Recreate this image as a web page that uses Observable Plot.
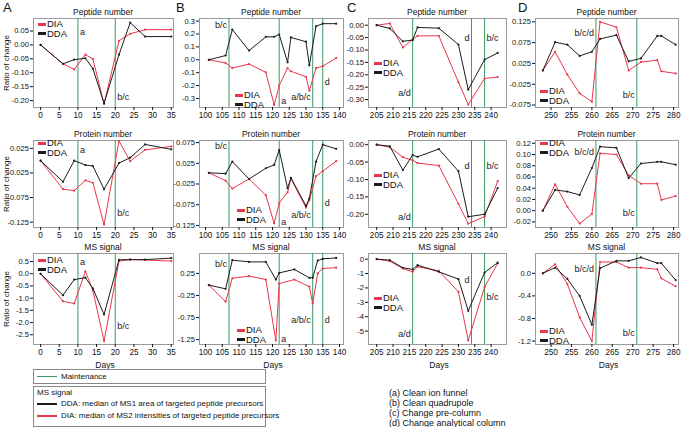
<!DOCTYPE html>
<html><head><meta charset="utf-8">
<script src="https://cdn.jsdelivr.net/npm/d3@7"></script>
<script src="https://cdn.jsdelivr.net/npm/@observablehq/plot@0.6"></script>
<style>
body{margin:0;background:#fff;font-family:"Liberation Sans",Arial,sans-serif;}
#root{position:relative;width:682px;height:427px;overflow:hidden;background:#fff;}
.abs{position:absolute;white-space:nowrap;line-height:1;color:#111;}
.ttl{font-size:8.5px;transform:translate(-50%,-50%);}
.let{font-size:13px;}
.ylab{font-size:8px;transform:translate(-50%,-50%) rotate(-90deg);}
.xlab{font-size:8.5px;transform:translate(-50%,-50%);}
.leg{font-size:9.5px;transform:translateY(-50%);}
.sw{position:absolute;height:3px;width:8px;}
.box{position:absolute;border:1px solid #888;box-sizing:border-box;}
.small{font-size:8px;transform:translateY(-50%);}
.proc{font-size:9px;transform:translateY(-50%);}
</style></head><body><div id="root"></div><script>
// ---------- data ----------
const daysA = [0, 6, 9, 12, 14, 17, 21, 24, 28, 35];
const pepDDA_A = [0, -0.068, -0.053, -0.048, -0.085, -0.21, -0.035, 0.08, 0.03, 0.03];
const pepDIA_A = [0, -0.068, -0.088, -0.035, -0.05, -0.212, 0.015, 0.04, 0.055, 0.055];
const protDDA_A = [0, -0.043, 0, -0.009, -0.011, -0.058, -0.005, 0.006, 0.033, 0.023];
const protDIA_A = [0, -0.058, -0.061, -0.04, -0.045, -0.13, 0.04, -0.001, 0.022, 0.029];
const msDDA_A = [0, -0.88, -0.24, -0.16, -0.6, -1.67, 0.57, 0.58, 0.58, 0.64];
const msDIA_A = [0, -1.13, -1.22, 0.1, -0.68, -2.76, 0.52, 0.58, 0.56, 0.52];

const daysB = [101, 106, 108, 113, 118, 120.5, 122, 124.5, 125.5, 130, 131, 133, 135, 139];
const pepDDA_B = [0, 0.033, 0.234, 0.071, 0.178, 0.178, 0.196, -0.02, 0.173, 0.14, -0.043, 0.26, 0.28, 0.28];
const pepDIA_B = [0, -0.025, -0.064, -0.033, -0.097, -0.35, -0.2, -0.064, -0.089, -0.132, -0.24, -0.064, -0.05, 0.013];
const protDDA_B = [0.002, 0, 0.029, -0.013, 0.013, 0.021, 0.057, -0.035, -0.01, -0.078, -0.06, 0.029, 0.07, 0.06];
const protDIA_B = [0.002, -0.017, -0.036, -0.013, -0.052, -0.12, -0.071, -0.045, -0.012, -0.082, -0.064, -0.006, 0.006, 0.03];
const daysB_ms = [101, 106, 108, 113, 118, 121, 122, 126.5, 131, 132, 133.5, 135, 139];
const msDDA_B = [-0.015, -0.1, 0.55, 0.51, 0.51, 0.11, 0.26, 0.34, 0.15, 0.15, 0.54, 0.58, 0.6];
const msDIA_B = [-0.015, -0.39, 0.14, 0.19, 0.11, -1.27, 0.02, 0.11, -0.05, -0.43, 0.25, 0.36, 0.38];

const daysC = [205, 209, 213, 216, 217.5, 224, 230, 233, 238, 242];
const pepDDA_C = [0, -0.013, -0.065, -0.06, -0.009, -0.012, -0.078, -0.26, -0.139, -0.112];
const pepDIA_C = [0, 0.007, -0.09, -0.058, -0.043, -0.043, -0.23, -0.32, -0.215, -0.209];
const protDDA_C = [0, -0.0045, -0.073, -0.03, -0.035, -0.0125, -0.076, -0.207, -0.2, -0.125];
const protDIA_C = [0, -0.007, -0.036, -0.045, -0.053, -0.06, -0.17, -0.227, -0.207, -0.105];
const msDDA_C = [0, -0.07, -0.6, -0.72, -0.42, -0.88, -1.39, -3.59, -0.93, -0.25];
const msDIA_C = [0, -0.14, -0.65, -0.88, -0.53, -0.81, -2.27, -5.65, -1.94, -0.3];

const daysD = [248, 251, 254, 257, 260, 262, 266, 269, 272, 276, 277, 280.5];
const pepDDA_D = [0.008, 0.076, 0.07, 0.043, 0.053, 0.084, 0.093, 0.03, 0.037, 0.091, 0.091, 0.07];
const pepDIA_D = [0.008, 0.053, -0.002, -0.047, -0.067, 0.125, 0.112, 0.008, 0.028, 0.033, 0.006, 0.001];
const protDDA_D = [0, 0.037, 0.034, 0.028, 0.076, 0.114, 0.112, 0.058, 0.084, 0.087, 0.087, 0.082];
const protDIA_D = [0, 0.047, 0.007, -0.023, -0.006, 0.102, 0.1, 0.063, 0.048, 0.048, 0.019, 0.026];
const msDDA_D = [0, 0.1, -0.1, -0.4, -0.91, 0.09, 0.22, 0.22, 0.28, 0.18, 0.18, -0.12];
const msDIA_D = [0, 0.16, -0.19, -0.78, -1.2, 0.2, 0.2, 0.1, 0.1, 0.07, -0.09, -0.23];

const maintA = [10, 20];
const maintB = [107, 122, 132, 135];
const maintC = [216, 234, 238];
const maintD = [261, 271];

const xTicksA = [0, 5, 10, 15, 20, 25, 30, 35];
const xTicksB = [100, 105, 110, 115, 120, 125, 130, 135, 140];
const xTicksC = [205, 210, 215, 220, 225, 230, 235, 240];
const xTicksD = [250, 255, 260, 265, 270, 275, 280];

const yTicksA1 = [0.05, 0, -0.05, -0.1, -0.15, -0.2];
const yTicksA2 = [0.025, -0.025, -0.075, -0.125];
const yTicksA3 = [0.5, 0, -0.5, -1, -1.5, -2, -2.5];
const yTicksB1 = [0.3, 0.2, 0.1, 0, -0.1, -0.2, -0.3];
const yTicksB2 = [0.075, 0.025, -0.025, -0.075, -0.125];
const yTicksB3 = [0.25, -0.25, -0.75, -1.25];
const yTicksC1 = [0, -0.05, -0.1, -0.15, -0.2, -0.25, -0.3];
const yTicksC2 = [0, -0.05, -0.1, -0.15, -0.2];
const yTicksC3 = [0, -1, -2, -3, -4, -5];
const yTicksD1 = [0.125, 0.075, 0.025, -0.025, -0.075];
const yTicksD2 = [0.12, 0.1, 0.08, 0.06, 0.04, 0.02, 0, -0.02];
const yTicksD3 = [0, -0.4, -0.8, -1.2];

const notesA1 = [{x: 10, y: 0.045, t: "a", s: 1}, {x: 20, y: -0.189, t: "b/c", s: 1}];
const notesA2 = [{x: 10, y: 0.021, t: "a", s: 1}, {x: 20, y: -0.107, t: "b/c", s: 1}];
const notesA3 = [{x: 10, y: 0.46, t: "a", s: 1}, {x: 20, y: -2.16, t: "b/c", s: 1}];
const notesB1 = [{x: 107, y: 0.266, t: "b/c", s: -1}, {x: 122, y: -0.323, t: "a", s: 1}, {x: 132, y: -0.292, t: "a/b/c", s: -1}, {x: 135, y: -0.176, t: "d", s: 1}];
const notesB2 = [{x: 107, y: 0.0655, t: "b/c", s: -1}, {x: 122, y: -0.118, t: "a", s: 1}, {x: 132, y: -0.101, t: "a/b/c", s: -1}, {x: 135, y: -0.072, t: "d", s: 1}];
const notesB3 = [{x: 107, y: 0.45, t: "b/c", s: -1}, {x: 122, y: -1.24, t: "a", s: 1}, {x: 132, y: -0.81, t: "a/b/c", s: -1}, {x: 135, y: -0.81, t: "d", s: 1}];
const notesC1 = [{x: 216, y: -0.275, t: "a/d", s: -1}, {x: 234, y: -0.054, t: "d", s: -1}, {x: 238, y: -0.054, t: "b/c", s: 1}];
const notesC2 = [{x: 216, y: -0.209, t: "a/d", s: -1}, {x: 234, y: -0.063, t: "d", s: -1}, {x: 238, y: -0.063, t: "b/c", s: 1}];
const notesC3 = [{x: 216, y: -5.23, t: "a/d", s: -1}, {x: 234, y: -1.49, t: "d", s: -1}, {x: 238, y: -2.67, t: "b/c", s: 1}];
const notesD1 = [{x: 261, y: 0.097, t: "b/c/d", s: -1}, {x: 271, y: -0.052, t: "b/c", s: -1}];
const notesD2 = [{x: 261, y: 0.105, t: "b/c/d", s: -1}, {x: 271, y: -0.005, t: "b/c", s: -1}];
const notesD3 = [{x: 261, y: 0.07, t: "b/c/d", s: -1}, {x: 271, y: -1.05, t: "b/c", s: -1}];

const rowTitles = ["Peptide number", "Protein number", "MS signal"];
const colLetters = ["A", "B", "C", "D"];
const seriesNames = ["DIA", "DDA"];
const procedures = ["(a) Clean ion funnel", "(b) Clean quadrupole", "(c) Change pre-column", "(d) Change analytical column"];

// ---------- layout / style ----------
const RED = "#e8374a", BLACK = "#1c1c1c", GREEN = "#3b9b63", FRAME = "#9a9a9a";
const FONT = "'Liberation Sans', Arial, sans-serif";
const colFrames = [[33, 173], [199, 343], [368, 506], [535, 678]];
const rowFrames = [[18, 107], [140, 227], [253, 344]];
const ML = 34, MR = 2, MT = 2, MB = 16;
const root = document.getElementById("root");

function txt(s, x, y, cls) {
  const d = document.createElement("div");
  d.className = "abs " + cls;
  d.style.left = x + "px"; d.style.top = y + "px";
  d.textContent = s;
  root.appendChild(d);
  return d;
}
function swatch(x, y, color, w, h) {
  const d = document.createElement("div");
  d.className = "sw";
  const hh = h || 3;
  d.style.left = x + "px"; d.style.top = (y - hh / 2) + "px";
  d.style.height = hh + "px";
  d.style.background = color;
  if (w) d.style.width = w + "px";
  root.appendChild(d);
}
const fmt = n => (v => Math.abs(v) < 1e-9 ? (0).toFixed(n) : v.toFixed(n));

const panels = [
  {c: 0, r: 0, days: daysA, dia: pepDIA_A, dda: pepDDA_A, xd: [-1.9, 35.6], yd: [-0.225, 0.095], xt: xTicksA, yt: yTicksA1, yf: 2, m: maintA, n: notesA1, leg: [38, 24]},
  {c: 0, r: 1, days: daysA, dia: protDIA_A, dda: protDDA_A, xd: [-1.9, 35.6], yd: [-0.136, 0.041], xt: xTicksA, yt: yTicksA2, yf: 3, m: maintA, n: notesA2, leg: [38, 143]},
  {c: 0, r: 2, days: daysA, dia: msDIA_A, dda: msDDA_A, xd: [-1.9, 35.6], yd: [-2.9, 0.83], xt: xTicksA, yt: yTicksA3, yf: 1, m: maintA, n: notesA3, leg: [38, 260]},
  {c: 1, r: 0, days: daysB, dia: pepDIA_B, dda: pepDDA_B, xd: [98.2, 141.2], yd: [-0.37, 0.32], xt: xTicksB, yt: yTicksB1, yf: 1, m: maintB, n: notesB1, leg: [235, 95]},
  {c: 1, r: 1, days: daysB, dia: protDIA_B, dda: protDDA_B, xd: [98.2, 141.2], yd: [-0.13, 0.08], xt: xTicksB, yt: yTicksB2, yf: 3, m: maintB, n: notesB2, leg: [237, 210]},
  {c: 1, r: 2, days: daysB_ms, dia: msDIA_B, dda: msDDA_B, xd: [98.2, 141.2], yd: [-1.36, 0.7], xt: xTicksB, yt: yTicksB3, yf: 2, m: maintB, n: notesB3, leg: [237, 330]},
  {c: 2, r: 0, days: daysC, dia: pepDIA_C, dda: pepDDA_C, xd: [202.5, 244.7], yd: [-0.332, 0.027], xt: xTicksC, yt: yTicksC1, yf: 2, m: maintC, n: notesC1, leg: [374, 63]},
  {c: 2, r: 1, days: daysC, dia: protDIA_C, dda: protDDA_C, xd: [202.5, 244.7], yd: [-0.238, 0.012], xt: xTicksC, yt: yTicksC2, yf: 2, m: maintC, n: notesC2, leg: [374, 175]},
  {c: 2, r: 2, days: daysC, dia: msDIA_C, dda: msDDA_C, xd: [202.5, 244.7], yd: [-5.93, 0.39], xt: xTicksC, yt: yTicksC3, yf: 0, m: maintC, n: notesC3, leg: [374, 298]},
  {c: 3, r: 0, days: daysD, dia: pepDIA_D, dda: pepDDA_D, xd: [246.2, 281.2], yd: [-0.081, 0.133], xt: xTicksD, yt: yTicksD1, yf: 3, m: maintD, n: notesD1, leg: [540, 91]},
  {c: 3, r: 1, days: daysD, dia: protDIA_D, dda: protDDA_D, xd: [246.2, 281.2], yd: [-0.03, 0.125], xt: xTicksD, yt: yTicksD2, yf: 2, m: maintD, n: notesD2, leg: [540, 143]},
  {c: 3, r: 2, days: daysD, dia: msDIA_D, dda: msDDA_D, xd: [246.2, 281.2], yd: [-1.26, 0.35], xt: xTicksD, yt: yTicksD3, yf: 1, m: maintD, n: notesD3, leg: [540, 331]},
];

for (const p of panels) {
  const [fl, fr] = colFrames[p.c], [ft, fb] = rowFrames[p.r];
  const rows = p.days.map((d, i) => ({d, dia: p.dia[i], dda: p.dda[i]}));
  const svg = Plot.plot({
    width: fr - fl + ML + MR, height: fb - ft + MT + MB,
    marginLeft: ML, marginRight: MR, marginTop: MT, marginBottom: MB,
    style: {fontSize: "8px", fontFamily: FONT, background: "transparent", overflow: "visible", color: "#111"},
    x: {domain: p.xd},
    y: {domain: p.yd},
    marks: [
      Plot.frame({stroke: FRAME, strokeWidth: 1}),
      Plot.axisX({ticks: p.xt, tickSize: 3, tickPadding: 1.5, label: null, tickFormat: d => String(d), fontSize: 8.2}),
      Plot.axisY({ticks: p.yt, tickSize: 3, tickPadding: 1.5, label: null, tickFormat: fmt(p.yf), fontSize: 7.6}),
      Plot.ruleX(p.m, {stroke: GREEN, strokeWidth: 1}),
      Plot.line(rows, {x: "d", y: "dia", stroke: RED, strokeWidth: 1}),
      Plot.dot(rows, {x: "d", y: "dia", r: 1.1, fill: RED}),
      Plot.line(rows, {x: "d", y: "dda", stroke: BLACK, strokeWidth: 1}),
      Plot.dot(rows, {x: "d", y: "dda", r: 1.1, fill: BLACK}),
      Plot.text(p.n.filter(o => o.s > 0), {x: "x", y: "y", text: "t", textAnchor: "start", dx: 2, fontSize: 9, fill: "#222"}),
      Plot.text(p.n.filter(o => o.s < 0), {x: "x", y: "y", text: "t", textAnchor: "end", dx: -2, fontSize: 9, fill: "#222"}),
    ]
  });
  svg.style.position = "absolute";
  svg.style.left = (fl - ML) + "px";
  svg.style.top = (ft - MT) + "px";
  svg.style.maxWidth = "none";
  root.appendChild(svg);
  txt(rowTitles[p.r], (fl + fr) / 2, ft - 6, "ttl");
  const [lx, ly] = p.leg;
  swatch(lx, ly, RED); txt(seriesNames[0], lx + 9, ly, "leg");
  swatch(lx, ly + 9.5, BLACK); txt(seriesNames[1], lx + 9, ly + 9.5, "leg");
}

colLetters.forEach((L, i) => txt(L, [3, 176, 347, 518][i], 1, "let"));
rowFrames.forEach(([t, b]) => txt("Ratio of change", 7, (t + b) / 2, "ylab"));
colFrames.forEach(([l, r]) => txt("Days", (l + r) / 2 + 2, 365, "xlab"));

function box(x, y, w, h) {
  const d = document.createElement("div");
  d.className = "box";
  Object.assign(d.style, {left: x + "px", top: y + "px", width: w + "px", height: h + "px"});
  root.appendChild(d);
}
box(33, 369, 233, 15);
swatch(37, 376.5, GREEN, 20, 1.2);
txt("Maintenance", 61, 376.5, "small");
box(33, 386, 233, 41);
txt("MS signal", 37, 393, "small");
swatch(37, 404, BLACK, 20, 1.2);
txt("DDA: median of MS1 area of targeted peptide precursors", 61, 404, "small");
swatch(37, 416, RED, 20, 1.2);
txt("DIA: median of MS2 intensities of targeted peptide precursors", 61, 416, "small");
procedures.forEach((s, i) => txt(s, 389, 393 + i * 10, "proc"));
</script></body></html>
